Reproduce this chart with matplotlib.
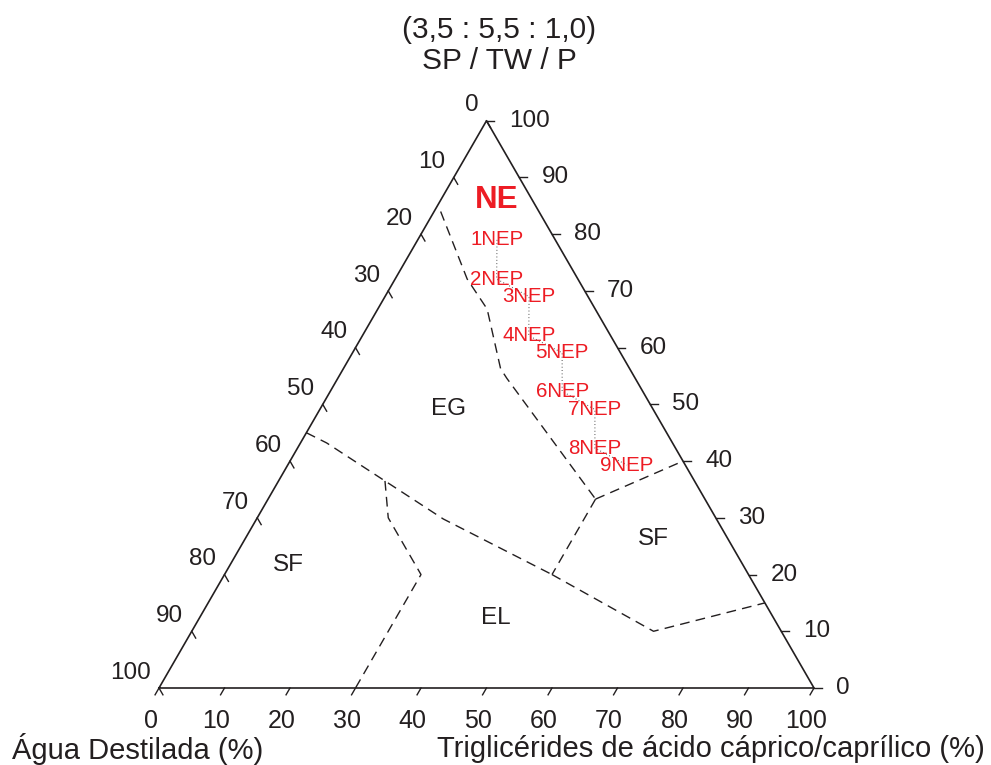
import numpy as np
import matplotlib
matplotlib.use("Agg")
from matplotlib import pyplot as plt

plt.rcParams['font.family'] = ['Liberation Sans', 'DejaVu Sans']

INK = '#231f20'
RED = '#ed1c24'

# ______DATA______ (oil %, surfactant %); water is whatever is left
tickValues = [0, 10, 20, 30, 40, 50, 60, 70, 80, 90, 100]

# phase boundaries
boundaryNeEg = ([1, 11, 16.7, 24, 25.8, 50], [84, 72.1, 66.8, 56.3, 54.6, 33.3])
boundaryEgSfRight = ([50, 60], [33.3, 40])
boundaryEgEl = ([50, 50], [33.3, 20])
boundaryLong = ([0, 4, 16.25, 28.5, 50], [45, 43.2, 36.5, 29.8, 20])
boundaryElSf = ([50, 70.5, 85], [20, 10, 15])
boundarySfEl = ([16.25, 20, 30, 30], [36.5, 30, 20, 0])

# formulations
nepNames = ['1NEP', '2NEP', '3NEP', '4NEP', '5NEP', '6NEP', '7NEP', '8NEP', '9NEP']
nepOil = [12.1, 15.5, 22.0, 25.4, 32.0, 35.4, 42.0, 45.4, 51.8]
nepSurf = [79.0, 72.1, 69.0, 62.1, 59.1, 52.3, 49.1, 42.3, 39.3]

# region names
regionNames = ['EG', 'SF', 'EL', 'SF']
regionOil = [19.6, 8.9, 45.3, 62.3]
regionSurf = [49.1, 21.6, 12.3, 26.3]


def toXY(oil, surf):
    oil = np.asarray(oil, dtype=float)
    surf = np.asarray(surf, dtype=float)
    return oil + surf / 2, surf * np.sqrt(3) / 2


# ______FIGURE______
fig = plt.figure(figsize=(9.91, 7.65), dpi=100)
scale = 6.55  # px per percent
ax = fig.add_axes([0, 0, 1, 1])
ax.set_xlim(-159 / scale, (991 - 159) / scale)
ax.set_ylim(-77 / scale, (765 - 77) / scale)
ax.axis('off')

# triangle
tx, ty = toXY([0, 100, 0, 0], [0, 0, 100, 0])
ax.plot(tx, ty, color=INK, lw=1.2, solid_joinstyle='miter')

tickLen = 1.2
c60, s60 = np.cos(np.radians(60)), np.sin(np.radians(60))
for v in tickValues:
    # right axis: surfactant
    x, y = toXY(100 - v, v)
    ax.plot([x, x + tickLen], [y, y], color=INK, lw=1)
    ax.annotate(str(v), (x, y), xytext=(16, 0), textcoords='offset points',
                ha='left', va='center', fontsize=17.5, color=INK)
    # left axis: water
    x, y = toXY(0, 100 - v)
    ax.plot([x, x + tickLen * c60], [y, y - tickLen * s60], color=INK, lw=1)
    ax.annotate(str(v), (x, y), xytext=(-6, 11), textcoords='offset points',
                ha='right', va='center', fontsize=17.5, color=INK)
    # bottom axis: oil
    x, y = toXY(v, 0)
    ax.plot([x, x - tickLen * c60], [y, y - tickLen * s60], color=INK, lw=1)
    ax.annotate(str(v), (x, y), xytext=(-6, -24), textcoords='offset points',
                ha='center', va='center', fontsize=18, color=INK)

# phase boundaries
for oil, surf in [boundaryNeEg, boundaryEgSfRight, boundaryEgEl,
                  boundaryLong, boundaryElSf, boundarySfEl]:
    bx, by = toXY(oil, surf)
    ax.plot(bx, by, color=INK, lw=1.0, dashes=(7, 4.5))

# formulation path and labels
px, py = toXY(nepOil, nepSurf)
ax.plot(px, py, color='#555555', lw=0.8, dashes=(0.8, 2.2))
for name, x, y in zip(nepNames, px, py):
    ax.text(x, y, name, ha='center', va='center', fontsize=14.8, color=RED)

nx, ny = toXY(8.6, 86.0)
ax.text(nx, ny, 'NE', ha='center', va='center', fontsize=22.5, color=RED,
        fontweight='bold')

rx, ry = toXY(regionOil, regionSurf)
for name, x, y in zip(regionNames, rx, ry):
    ax.text(x, y, name, ha='center', va='center', fontsize=17.5, color=INK)

# titles
fig.text(499 / 991, 1 - 30 / 765, '(3,5 : 5,5 : 1,0)', ha='center', va='center',
         fontsize=21.5, color=INK)
fig.text(499 / 991, 1 - 61 / 765, 'SP / TW / P', ha='center', va='center',
         fontsize=21.5, color=INK)
fig.text(12 / 991, 1 - 749 / 765, 'Água Destilada (%)', ha='left', va='center',
         fontsize=21, color=INK)
fig.text(985 / 991, 1 - 749 / 765, 'Triglicérides de ácido cáprico/caprílico (%)',
         ha='right', va='center', fontsize=21, color=INK)

fig.savefig('out.png', dpi=100)
